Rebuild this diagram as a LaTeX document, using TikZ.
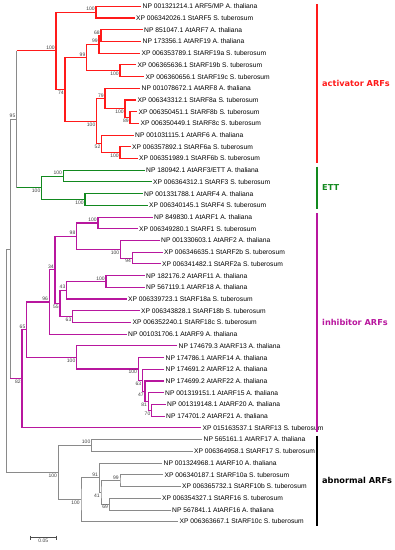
\documentclass[tikz,border=0pt]{standalone}
\usepackage{fontspec}
\setmainfont{Liberation Sans}
\newfontfamily\cladefont{DejaVu Sans}
\usepackage{xcolor}
\usepackage{tikz}
\usetikzlibrary{calc}
\definecolor{actred}{HTML}{FF1A1A}
\definecolor{ettgreen}{HTML}{12891F}
\definecolor{inhpurple}{HTML}{B8179E}
\definecolor{treegrey}{HTML}{8A8A8A}

\begin{document}
\begin{tikzpicture}[
    x=1pt, y=-1pt,
    leaf/.style={anchor=west, inner sep=1.5pt, font=\fontsize{6.7}{7}\selectfont},
    bsup/.style={anchor=south east, inner sep=1.2pt, font=\fontsize{5}{5}\selectfont, text=black!75},
    bsdown/.style={anchor=north east, inner sep=1.2pt, font=\fontsize{5}{5}\selectfont, text=black!75},
    base/.style={draw=treegrey, line width=0.6pt},
    clade/.style={draw=#1, line width=1.1pt},
    bar/.style={draw=#1, line width=1.6pt},
    group/.style={anchor=west, inner sep=0pt, font=\cladefont\bfseries\fontsize{8.2}{9}\selectfont, text=#1},
]
    \useasboundingbox (0,0) rectangle (395,550);

    % Leaves: activator ARFs
    \node[leaf] (l1) at (141,6.3) {NP 001321214.1 ARF5/MP A. thaliana};
    \node[leaf] (l2) at (134.5,18.0) {XP 006342026.1 StARF5 S. tuberosum};
    \node[leaf] (l3) at (142.5,29.7) {NP 851047.1 AtARF7 A. thaliana};
    \node[leaf] (l4) at (141,41.4) {NP 173356.1 AtARF19 A. thaliana};
    \node[leaf] (l5) at (140,53.1) {XP 006353789.1 StARF19a S. tuberosum};
    \node[leaf] (l6) at (136,64.9) {XP 006365636.1 StARF19b S. tuberosum};
    \node[leaf] (l7) at (144,76.6) {XP 006360656.1 StARF19c S. tuberosum};
    \node[leaf] (l8) at (140,88.3) {NP 001078672.1 AtARF8 A. thaliana};
    \node[leaf] (l9) at (136,100.0) {XP 006343312.1 StARF8a S. tuberosum};
    \node[leaf] (l10) at (137,111.7) {XP 006350451.1 StARF8b S. tuberosum};
    \node[leaf] (l11) at (139,123.4) {XP 006350449.1 StARF8c S. tuberosum};
    \node[leaf] (l12) at (133.5,135.1) {NP 001031115.1 AtARF6 A. thaliana};
    \node[leaf] (l13) at (130.5,146.8) {XP 006357892.1 StARF6a S. tuberosum};
    \node[leaf] (l14) at (137.5,158.5) {XP 006351989.1 StARF6b S. tuberosum};

    % Leaves: ETT
    \node[leaf] (l15) at (144.5,170.2) {NP 180942.1 AtARF3/ETT A. thaliana};
    \node[leaf] (l16) at (151.5,181.9) {XP 006364312.1 StARF3 S. tuberosum};
    \node[leaf] (l17) at (142.5,193.7) {NP 001331788.1 AtARF4 A. thaliana};
    \node[leaf] (l18) at (147.5,205.4) {XP 006340145.1 StARF4 S. tuberosum};

    % Leaves: inhibitor ARFs
    \node[leaf] (l19) at (152.5,217.1) {NP 849830.1 AtARF1 A. thaliana};
    \node[leaf] (l20) at (137.5,228.8) {XP 006349280.1 StARF1 S. tuberosum};
    \node[leaf] (l21) at (159.5,240.5) {NP 001330603.1 AtARF2 A. thaliana};
    \node[leaf] (l22) at (162.5,252.2) {XP 006346635.1 StARF2b S. tuberosum};
    \node[leaf] (l23) at (160.5,263.9) {XP 006341482.1 StARF2a S. tuberosum};
    \node[leaf] (l24) at (144.5,275.6) {NP 182176.2 AtARF11 A. thaliana};
    \node[leaf] (l25) at (144.5,287.3) {NP 567119.1 AtARF18 A. thaliana};
    \node[leaf] (l26) at (126.5,299.0) {XP 006339723.1 StARF18a S. tuberosum};
    \node[leaf] (l27) at (139.5,310.7) {XP 006343828.1 StARF18b S. tuberosum};
    \node[leaf] (l28) at (131,322.4) {XP 006352240.1 StARF18c S. tuberosum};
    \node[leaf] (l29) at (126.5,334.2) {NP 001031706.1 AtARF9 A. thaliana};
    \node[leaf] (l30) at (177,345.9) {NP 174679.3 AtARF13 A. thaliana};
    \node[leaf] (l31) at (164,357.6) {NP 174786.1 AtARF14 A. thaliana};
    \node[leaf] (l32) at (164,369.3) {NP 174691.2 AtARF12 A. thaliana};
    \node[leaf] (l33) at (164,381.0) {NP 174699.2 AtARF22 A. thaliana};
    \node[leaf] (l34) at (163.5,392.7) {NP 001319151.1 AtARF15 A. thaliana};
    \node[leaf] (l35) at (165.5,404.4) {NP 001319148.1 AtARF20 A. thaliana};
    \node[leaf] (l36) at (164.5,416.1) {NP 174701.2 AtARF21 A. thaliana};
    \node[leaf] (l37) at (201,427.8) {XP 015163537.1 StARF13 S. tuberosum};

    % Leaves: abnormal ARFs
    \node[leaf] (l38) at (202,439.5) {NP 565161.1 AtARF17 A. thaliana};
    \node[leaf] (l39) at (192.5,451.2) {XP 006364958.1 StARF17 S. tuberosum};
    \node[leaf] (l40) at (162,463.0) {NP 001324968.1 AtARF10 A. thaliana};
    \node[leaf] (l41) at (163,474.7) {XP 006340187.1 StARF10a S. tuberosum};
    \node[leaf] (l42) at (180.5,486.4) {XP 006365732.1 StARF10b S. tuberosum};
    \node[leaf] (l43) at (160.5,498.1) {XP 006354327.1 StARF16 S. tuberosum};
    \node[leaf] (l44) at (170.5,509.8) {NP 567841.1 AtARF16 A. thaliana};
    \node[leaf] (l45) at (178,521.5) {XP 006363667.1 StARF10c S. tuberosum};

    % Internal nodes
    \coordinate (n5) at (96,12.15);
    \coordinate (n68) at (101,35.55);
    \coordinate (n99b) at (99,44.3);
    \coordinate (n19) at (120,70.75);
    \coordinate (n99a) at (86.7,57.5);
    \coordinate (n89) at (130,117.55);
    \coordinate (n100c) at (125,108.8);
    \coordinate (n79) at (105,98.55);
    \coordinate (n6) at (120,152.65);
    \coordinate (n52) at (101.7,143.9);
    \coordinate (n100b) at (96.7,121.2);
    \coordinate (n74) at (65,89.35);
    \coordinate (nA) at (56,50.75);
    \coordinate (n3) at (63.3,176.05);
    \coordinate (n4) at (85,199.55);
    \coordinate (nETT) at (41.7,187.8);
    \coordinate (n95) at (16.7,119.3);
    \coordinate (n1) at (98,222.95);
    \coordinate (n94) at (132.3,258.05);
    \coordinate (n2) at (120.5,249.3);
    \coordinate (n98) at (76.7,236.1);
    \coordinate (n11) at (106,281.45);
    \coordinate (n43) at (66.7,290.2);
    \coordinate (n18) at (72.7,316.55);
    \coordinate (n55) at (60,303.4);
    \coordinate (n34) at (55,269.75);
    \coordinate (n96) at (49.3,301.95);
    \coordinate (n70) at (151.7,410.25);
    \coordinate (n81) at (148.3,401.5);
    \coordinate (n47) at (145,391.25);
    \coordinate (n63) at (142.5,380.3);
    \coordinate (n14) at (138.3,368.95);
    \coordinate (n13) at (76.7,357.4);
    \coordinate (n65) at (26.7,329.7);
    \coordinate (nM) at (22,378.75);
    \coordinate (n10) at (10.3,249.0);
    \coordinate (n17) at (91.7,445.35);
    \coordinate (n99c) at (120,480.55);
    \coordinate (n69) at (109.3,503.95);
    \coordinate (n41) at (101,492.25);
    \coordinate (n91) at (99.3,477.6);
    \coordinate (n10c) at (81,499.55);
    \coordinate (nAb) at (58.3,472.45);
    \coordinate (root) at (6.3,360.7);

    % Activator clade
    \draw[clade=actred] (l1) -| (n5) |- (l2);
    \draw[clade=actred] (l3) -| (n68) |- (l4);
    \draw[clade=actred] (n68) -| (n99b) |- (l5);
    \draw[clade=actred] (l6) -| (n19) |- (l7);
    \draw[clade=actred] (n99b) -| (n99a) |- (n19);
    \draw[clade=actred] (l10) -| (n89) |- (l11);
    \draw[clade=actred] (l9) -| (n100c) |- (n89);
    \draw[clade=actred] (l8) -| (n79) |- (n100c);
    \draw[clade=actred] (l13) -| (n6) |- (l14);
    \draw[clade=actred] (l12) -| (n52) |- (n6);
    \draw[clade=actred] (n79) -| (n100b) |- (n52);
    \draw[clade=actred] (n99a) -| (n74) |- (n100b);
    \draw[clade=actred] (n5) -| (nA) |- (n74);

    % ETT clade
    \draw[clade=ettgreen] (l15) -| (n3) |- (l16);
    \draw[clade=ettgreen] (l17) -| (n4) |- (l18);
    \draw[clade=ettgreen] (n3) -| (nETT) |- (n4);

    % Inhibitor clade
    \draw[clade=inhpurple] (l19) -| (n1) |- (l20);
    \draw[clade=inhpurple] (l22) -| (n94) |- (l23);
    \draw[clade=inhpurple] (l21) -| (n2) |- (n94);
    \draw[clade=inhpurple] (n1) -| (n98) |- (n2);
    \draw[clade=inhpurple] (l24) -| (n11) |- (l25);
    \draw[clade=inhpurple] (n11) -| (n43) |- (l26);
    \draw[clade=inhpurple] (l27) -| (n18) |- (l28);
    \draw[clade=inhpurple] (n43) -| (n55) |- (n18);
    \draw[clade=inhpurple] (n98) -| (n34) |- (n55);
    \draw[clade=inhpurple] (n34) -| (n96) |- (l29);
    \draw[clade=inhpurple] (l35) -| (n70) |- (l36);
    \draw[clade=inhpurple] (l34) -| (n81) |- (n70);
    \draw[clade=inhpurple] (l33) -| (n47) |- (n81);
    \draw[clade=inhpurple] (l32) -| (n63) |- (n47);
    \draw[clade=inhpurple] (l31) -| (n14) |- (n63);
    \draw[clade=inhpurple] (l30) -| (n13) |- (n14);
    \draw[clade=inhpurple] (n96) -| (n65) |- (n13);
    \draw[clade=inhpurple] (n65) -| (nM) |- (l37);

    % Abnormal clade
    \draw[base] (l38) -| (n17) |- (l39);
    \draw[base] (l41) -| (n99c) |- (l42);
    \draw[base] (l43) -| (n69) |- (l44);
    \draw[base] (n99c) -| (n41) |- (n69);
    \draw[base] (l40) -| (n91) |- (n41);
    \draw[base] (n91) -| (n10c) |- (l45);
    \draw[base] (n17) -| (nAb) |- (n10c);

    % Backbone
    \draw[base] (nA -| n95) -- (nETT -| n95);
    \draw[clade=actred] (n95 |- nA) -- (nA);
    \draw[clade=ettgreen] (n95 |- nETT) -- (nETT);
    \draw[base] (n95) -| (n10) |- (n10 |- nM);
    \draw[clade=inhpurple] (n10 |- nM) -- (nM);
    \draw[base] (n10) -| (root) |- (nAb);

    % Bootstrap values
    \node[bsup] (bA) at (nA) {100};
    \node[bsup] (b5) at (n5) {100};
    \node[bsdown] (b74) at (n74) {74};
    \node[bsup] (b99a) at (n99a) {99};
    \node[bsup] (b99b) at (n99b) {99};
    \node[bsup] (b68) at (n68) {68};
    \node[bsdown] (b19) at (n19) {100};
    \node[bsdown] (b100b) at (n100b) {100};
    \node[bsup] (b79) at (n79) {79};
    \node[bsdown] (b100c) at (n100c) {100};
    \node[bsdown] (b89) at (n89) {89};
    \node[bsdown] (b52) at (n52) {52};
    \node[bsdown] (b6) at (n6) {100};
    \node[bsdown] (bETT) at (nETT) {100};
    \node[bsup] (b3) at (n3) {100};
    \node[bsdown] (b4) at (n4) {100};
    \node[bsup] (b95) at (n95) {95};
    \node[bsdown] (bM) at (nM) {82};
    \node[bsup] (b65) at (n65) {65};
    \node[bsup] (b96) at (n96) {96};
    \node[bsup] (b34) at (n34) {34};
    \node[bsup] (b98) at (n98) {98};
    \node[bsup] (b1) at (n1) {100};
    \node[bsdown] (b2) at (n2) {100};
    \node[bsdown] (b94) at (n94) {94};
    \node[bsdown] (b55) at (n55) {55};
    \node[bsup] (b43) at (n43) {43};
    \node[bsup] (b11) at (n11) {100};
    \node[bsdown] (b18) at (n18) {63};
    \node[bsdown] (b13) at (n13) {100};
    \node[bsdown] (b14) at (n14) {100};
    \node[bsdown] (b63) at (n63) {63};
    \node[bsdown] (b47) at (n47) {47};
    \node[bsdown] (b81) at (n81) {81};
    \node[bsdown] (b70) at (n70) {70};
    \node[bsdown] (bAb) at (nAb) {100};
    \node[bsup] (b17) at (n17) {100};
    \node[bsdown] (b10c) at (n10c) {100};
    \node[bsup] (b91) at (n91) {91};
    \node[bsdown] (b41) at (n41) {41};
    \node[bsup] (b99c) at (n99c) {99};
    \node[bsdown] (b69) at (n69) {69};

    % Group brackets
    \draw[bar=actred] (316.7,4) -- (316.7,163.3);
    \node[group=actred] (gact) at (322,83.7) {activator ARFs};
    \draw[bar=ettgreen] (316.7,166.7) -- (316.7,209.3);
    \node[group=ettgreen] (gett) at (322,188) {ETT};
    \draw[bar=inhpurple] (316.7,213.3) -- (316.7,431.7);
    \node[group=inhpurple] (ginh) at (322,322.5) {inhibitor ARFs};
    \draw[bar=black] (316.7,435.7) -- (316.7,526);
    \node[group=black] (gabn) at (322,480.9) {abnormal ARFs};

    % Scale bar
    \coordinate (sb1) at (30.7,537.7);
    \coordinate (sb2) at (56,537.7);
    \draw[base, draw=black!70] (sb1) -- (sb2);
    \draw[base, draw=black!70] ([yshift=2pt]sb1) -- ([yshift=-2pt]sb1);
    \draw[base, draw=black!70] ([yshift=2pt]sb2) -- ([yshift=-2pt]sb2);
    \node[bsdown, anchor=north] (sbl) at ($(sb1)!0.5!(sb2)$) {0.05};
\end{tikzpicture}
\end{document}
